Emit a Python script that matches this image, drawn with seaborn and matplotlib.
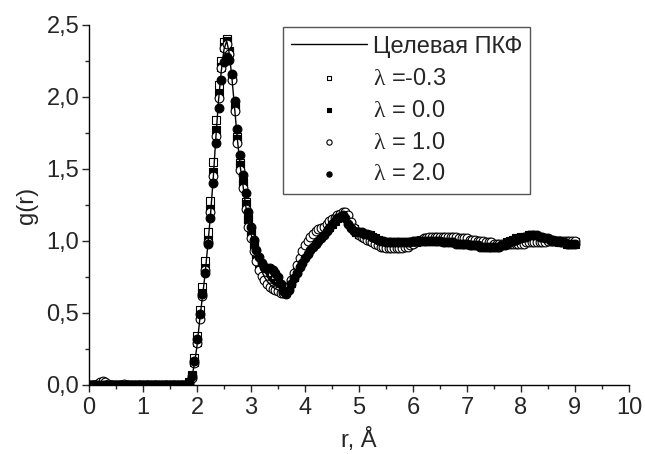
import numpy as np
import pandas as pd
import matplotlib
matplotlib.use('Agg')
import matplotlib.pyplot as plt
import seaborn as sns
from matplotlib.ticker import MultipleLocator, FuncFormatter

# r grid, step 0.05 A
r = np.round(np.arange(0, 181) * 0.05, 2)

g_target = [
    0, 0, 0, 0, 0, 0, 0, 0, 0, 0,
    0, 0, 0, 0, 0, 0, 0, 0, 0, 0,
    0, 0, 0, 0, 0, 0, 0, 0, 0, 0,
    0, 0, 0, 0, 0, 0, 0, 0.01, 0.05, 0.14,
    0.27, 0.45, 0.61, 0.77, 0.97, 1.18, 1.43, 1.72, 1.98, 2.18,
    2.33, 2.39, 2.30, 2.12, 1.91, 1.70, 1.52, 1.39, 1.25, 1.14,
    1.05, 0.97, 0.90, 0.84, 0.79, 0.75, 0.72, 0.70, 0.68, 0.67,
    0.66, 0.65, 0.64, 0.65, 0.67, 0.70, 0.74, 0.78, 0.82, 0.86,
    0.90, 0.93, 0.96, 0.98, 1.00, 1.02, 1.04, 1.06, 1.08, 1.10,
    1.12, 1.14, 1.16, 1.17, 1.18, 1.17, 1.14, 1.11, 1.08, 1.06,
    1.05, 1.05, 1.05, 1.04, 1.04, 1.03, 1.02, 1.01, 1.00, 0.99,
    0.98, 0.98, 0.97, 0.97, 0.97, 0.97, 0.97, 0.97, 0.98, 0.98,
    0.99, 0.99, 1.00, 1.00, 1.01, 1.01, 1.01, 1.01, 1.01, 1.01,
    1.01, 1.00, 1.00, 1.00, 1.00, 0.99, 0.99, 0.99, 0.99, 0.99,
    0.98, 0.98, 0.98, 0.98, 0.98, 0.97, 0.97, 0.97, 0.97, 0.96,
    0.96, 0.96, 0.97, 0.97, 0.98, 0.99, 1.00, 1.01, 1.01, 1.02,
    1.02, 1.03, 1.03, 1.03, 1.03, 1.03, 1.03, 1.02, 1.02, 1.02,
    1.01, 1.01, 1.00, 1.00, 0.99, 0.99, 0.99, 0.99, 0.98, 0.98,
    0.98,
]

g_m03 = [
    0, 0, 0, 0, 0, 0, 0, 0, 0, 0,
    0, 0, 0, 0, 0, 0, 0, 0, 0, 0,
    0, 0, 0, 0, 0, 0, 0, 0, 0, 0,
    0, 0, 0, 0, 0, 0, 0, 0.02, 0.07, 0.19,
    0.34, 0.52, 0.68, 0.86, 1.06, 1.28, 1.55, 1.84, 2.08, 2.25,
    2.38, 2.40, 2.32, 2.14, 1.93, 1.72, 1.54, 1.41, 1.27, 1.15,
    1.06, 0.98, 0.91, 0.85, 0.80, 0.76, 0.73, 0.71, 0.69, 0.68,
    0.67, 0.66, 0.65, 0.66, 0.68, 0.71, 0.75, 0.79, 0.83, 0.87,
    0.91, 0.94, 0.97, 0.99, 1.01, 1.03, 1.05, 1.07, 1.09, 1.11,
    1.13, 1.15, 1.17, 1.18, 1.19, 1.18, 1.15, 1.11, 1.08, 1.06,
    1.05, 1.05, 1.04, 1.04, 1.03, 1.02, 1.01, 1.00, 0.99, 0.98,
    0.98, 0.97, 0.97, 0.97, 0.96, 0.96, 0.96, 0.97, 0.97, 0.98,
    0.99, 0.99, 1.00, 1.01, 1.01, 1.02, 1.02, 1.02, 1.02, 1.02,
    1.02, 1.01, 1.01, 1.01, 1.01, 1.00, 1.00, 1.00, 0.99, 0.99,
    0.99, 0.99, 0.98, 0.98, 0.98, 0.98, 0.97, 0.97, 0.97, 0.97,
    0.97, 0.97, 0.97, 0.97, 0.98, 0.98, 0.99, 1.00, 1.00, 1.01,
    1.01, 1.02, 1.02, 1.02, 1.02, 1.02, 1.02, 1.02, 1.01, 1.01,
    1.01, 1.00, 1.00, 1.00, 1.00, 0.99, 0.99, 0.99, 0.99, 0.99,
    0.99,
]

g_0 = [
    0, 0, 0, 0, 0, 0, 0, 0, 0, 0,
    0, 0, 0, 0, 0, 0, 0, 0, 0, 0,
    0, 0, 0, 0, 0, 0, 0, 0, 0, 0,
    0, 0, 0, 0, 0, 0, 0, 0.01, 0.06, 0.16,
    0.30, 0.48, 0.64, 0.81, 1.01, 1.22, 1.48, 1.77, 2.02, 2.21,
    2.35, 2.39, 2.31, 2.13, 1.92, 1.71, 1.53, 1.40, 1.26, 1.15,
    1.06, 0.98, 0.91, 0.85, 0.80, 0.76, 0.73, 0.71, 0.69, 0.68,
    0.67, 0.66, 0.65, 0.66, 0.68, 0.71, 0.75, 0.79, 0.83, 0.86,
    0.90, 0.93, 0.96, 0.98, 1.00, 1.02, 1.04, 1.06, 1.08, 1.10,
    1.12, 1.14, 1.16, 1.17, 1.18, 1.17, 1.14, 1.11, 1.08, 1.06,
    1.05, 1.05, 1.05, 1.04, 1.04, 1.03, 1.02, 1.01, 1.00, 0.99,
    0.99, 0.98, 0.98, 0.98, 0.98, 0.98, 0.98, 0.98, 0.98, 0.99,
    0.99, 1.00, 1.00, 1.00, 1.01, 1.01, 1.01, 1.01, 1.01, 1.01,
    1.00, 1.00, 1.00, 1.00, 0.99, 0.99, 0.99, 0.99, 0.98, 0.98,
    0.98, 0.98, 0.97, 0.97, 0.97, 0.97, 0.97, 0.96, 0.96, 0.96,
    0.96, 0.96, 0.97, 0.97, 0.98, 0.99, 1.00, 1.01, 1.02, 1.02,
    1.03, 1.03, 1.03, 1.04, 1.04, 1.03, 1.03, 1.03, 1.02, 1.02,
    1.01, 1.01, 1.00, 1.00, 0.99, 0.99, 0.99, 0.98, 0.98, 0.98,
    0.98,
]

g_1 = [
    0, 0, 0, 0.01, 0.02, 0.03, 0.02, 0.01, 0, 0,
    0, 0, 0, 0.01, 0, 0, 0, 0, 0, 0,
    0, 0, 0, 0, 0, 0, 0, 0, 0, 0,
    0, 0, 0, 0, 0, 0, 0, 0.01, 0.05, 0.15,
    0.29, 0.46, 0.62, 0.80, 0.99, 1.20, 1.45, 1.73, 1.99, 2.20,
    2.34, 2.37, 2.30, 2.12, 1.90, 1.68, 1.49, 1.37, 1.22, 1.10,
    1.02, 0.93, 0.86, 0.80, 0.76, 0.73, 0.70, 0.68, 0.67, 0.66,
    0.65, 0.64, 0.64, 0.66, 0.69, 0.73, 0.78, 0.83, 0.88, 0.93,
    0.97, 1.00, 1.03, 1.05, 1.07, 1.08, 1.09, 1.10, 1.12, 1.14,
    1.15, 1.16, 1.18, 1.19, 1.20, 1.20, 1.18, 1.13, 1.09, 1.06,
    1.04, 1.03, 1.02, 1.01, 1.00, 0.99, 0.98, 0.97, 0.96, 0.96,
    0.95, 0.95, 0.95, 0.95, 0.95, 0.95, 0.95, 0.96, 0.96, 0.97,
    0.98, 0.99, 1.00, 1.01, 1.02, 1.02, 1.03, 1.03, 1.03, 1.03,
    1.03, 1.03, 1.03, 1.03, 1.03, 1.03, 1.03, 1.02, 1.02, 1.02,
    1.02, 1.01, 1.01, 1.01, 1.00, 1.00, 1.00, 0.99, 0.99, 0.99,
    0.98, 0.98, 0.98, 0.98, 0.98, 0.98, 0.98, 0.98, 0.98, 0.98,
    0.98, 0.98, 0.99, 0.99, 0.99, 0.99, 0.99, 0.99, 0.99, 0.99,
    1.00, 1.00, 1.00, 1.00, 1.00, 1.00, 1.00, 1.00, 1.00, 1.00,
    1.00,
]

g_2 = [
    0, 0, 0, 0, 0, 0, 0, 0, 0, 0,
    0, 0, 0, 0, 0, 0, 0, 0, 0, 0,
    0, 0, 0, 0, 0, 0, 0, 0, 0, 0,
    0, 0, 0, 0, 0, 0, 0, 0.02, 0.06, 0.17,
    0.32, 0.49, 0.63, 0.78, 0.98, 1.16, 1.40, 1.68, 1.92, 2.12,
    2.24, 2.28, 2.26, 2.16, 1.97, 1.78, 1.60, 1.46, 1.33, 1.20,
    1.10, 1.01, 0.94, 0.89, 0.85, 0.82, 0.81, 0.81, 0.80, 0.78,
    0.75, 0.70, 0.65, 0.63, 0.66, 0.70, 0.74, 0.78, 0.82, 0.85,
    0.88, 0.91, 0.94, 0.96, 0.98, 1.00, 1.02, 1.04, 1.07, 1.09,
    1.12, 1.14, 1.16, 1.17, 1.18, 1.16, 1.12, 1.09, 1.07, 1.06,
    1.06, 1.06, 1.05, 1.05, 1.04, 1.03, 1.02, 1.01, 1.00, 1.00,
    0.99, 0.99, 0.99, 0.99, 0.99, 0.99, 0.99, 0.99, 0.99, 0.99,
    1.00, 1.00, 1.00, 1.00, 1.00, 1.00, 1.00, 1.00, 1.00, 1.00,
    1.00, 0.99, 0.99, 0.99, 0.99, 0.99, 0.98, 0.98, 0.98, 0.98,
    0.98, 0.97, 0.97, 0.97, 0.97, 0.96, 0.96, 0.96, 0.96, 0.96,
    0.96, 0.96, 0.96, 0.97, 0.97, 0.98, 0.99, 1.00, 1.01, 1.02,
    1.02, 1.03, 1.03, 1.04, 1.04, 1.04, 1.04, 1.03, 1.03, 1.02,
    1.02, 1.01, 1.01, 1.00, 1.00, 0.99, 0.99, 0.98, 0.98, 0.98,
    0.98,
]

labels = [r'$\mathrm{\lambda}$ =-0.3', r'$\mathrm{\lambda}$ = 0.0',
          r'$\mathrm{\lambda}$ = 1.0', r'$\mathrm{\lambda}$ = 2.0']

df = pd.DataFrame({'r': r, 'target': g_target, 'm03': g_m03,
                   'l0': g_0, 'l1': g_1, 'l2': g_2})

sns.set_style('ticks')
plt.rcParams['font.family'] = ['Liberation Sans', 'DejaVu Sans']
plt.rcParams['mathtext.fontset'] = 'custom'
plt.rcParams['mathtext.rm'] = 'Liberation Serif'
plt.rcParams['font.size'] = 17

fig = plt.figure(figsize=(6.45, 4.54), dpi=100)
ax = fig.add_axes([0.138, 0.152, 0.837, 0.793])

sq = 34
ci = 40
sns.scatterplot(data=df, x='r', y='m03', marker='s', s=sq, facecolor='white',
                edgecolor='black', linewidth=0.8, label=labels[0], ax=ax, zorder=2)
sns.scatterplot(data=df, x='r', y='l0', marker='s', s=sq, color='black',
                edgecolor='black', linewidth=0.8, label=labels[1], ax=ax, zorder=2)
sns.scatterplot(data=df, x='r', y='l1', marker='o', s=ci, facecolor='white',
                edgecolor='black', linewidth=0.8, label=labels[2], ax=ax, zorder=2)
sns.scatterplot(data=df, x='r', y='l2', marker='o', s=ci, color='black',
                edgecolor='black', linewidth=0.8, label=labels[3], ax=ax, zorder=2)
sns.lineplot(data=df, x='r', y='target', color='black', lw=1.0,
             label='Целевая ПКФ', ax=ax, zorder=3)

ax.set_xlim(0, 10)
ax.set_ylim(0, 2.5)
ax.xaxis.set_major_locator(MultipleLocator(1))
ax.xaxis.set_minor_locator(MultipleLocator(0.5))
ax.yaxis.set_major_locator(MultipleLocator(0.5))
ax.yaxis.set_minor_locator(MultipleLocator(0.25))
ax.yaxis.set_major_formatter(FuncFormatter(lambda v, p: f'{v:.1f}'.replace('.', ',')))
ax.xaxis.set_major_formatter(FuncFormatter(lambda v, p: f'{v:.0f}'))
ax.tick_params(which='major', direction='out', length=5, width=1, labelsize=17)
ax.tick_params(axis='x', which='major', pad=4)
ax.tick_params(axis='y', which='major', pad=2)
ax.tick_params(which='minor', direction='out', length=3, width=1)
sns.despine(ax=ax)
for s in ['left', 'bottom']:
    ax.spines[s].set_linewidth(1)
    ax.spines[s].set_color('black')

ax.set_xlabel('r, Å', fontsize=17, labelpad=6)
ax.set_ylabel('g(r)', fontsize=17, labelpad=6)

handles, labs = ax.get_legend_handles_labels()
order = [4, 0, 1, 2, 3]
leg = ax.legend([handles[i] for i in order], [labs[i] for i in order],
                loc='upper left', bbox_to_anchor=(0.359, 0.993), frameon=True,
                fancybox=False, framealpha=1, edgecolor='#555555',
                fontsize=17, handlelength=3.2, labelspacing=0.42,
                borderpad=0.35, borderaxespad=0, handletextpad=0.25,
                markerscale=0.6)
leg.get_frame().set_linewidth(1)

fig.savefig('out.png', dpi=100)
